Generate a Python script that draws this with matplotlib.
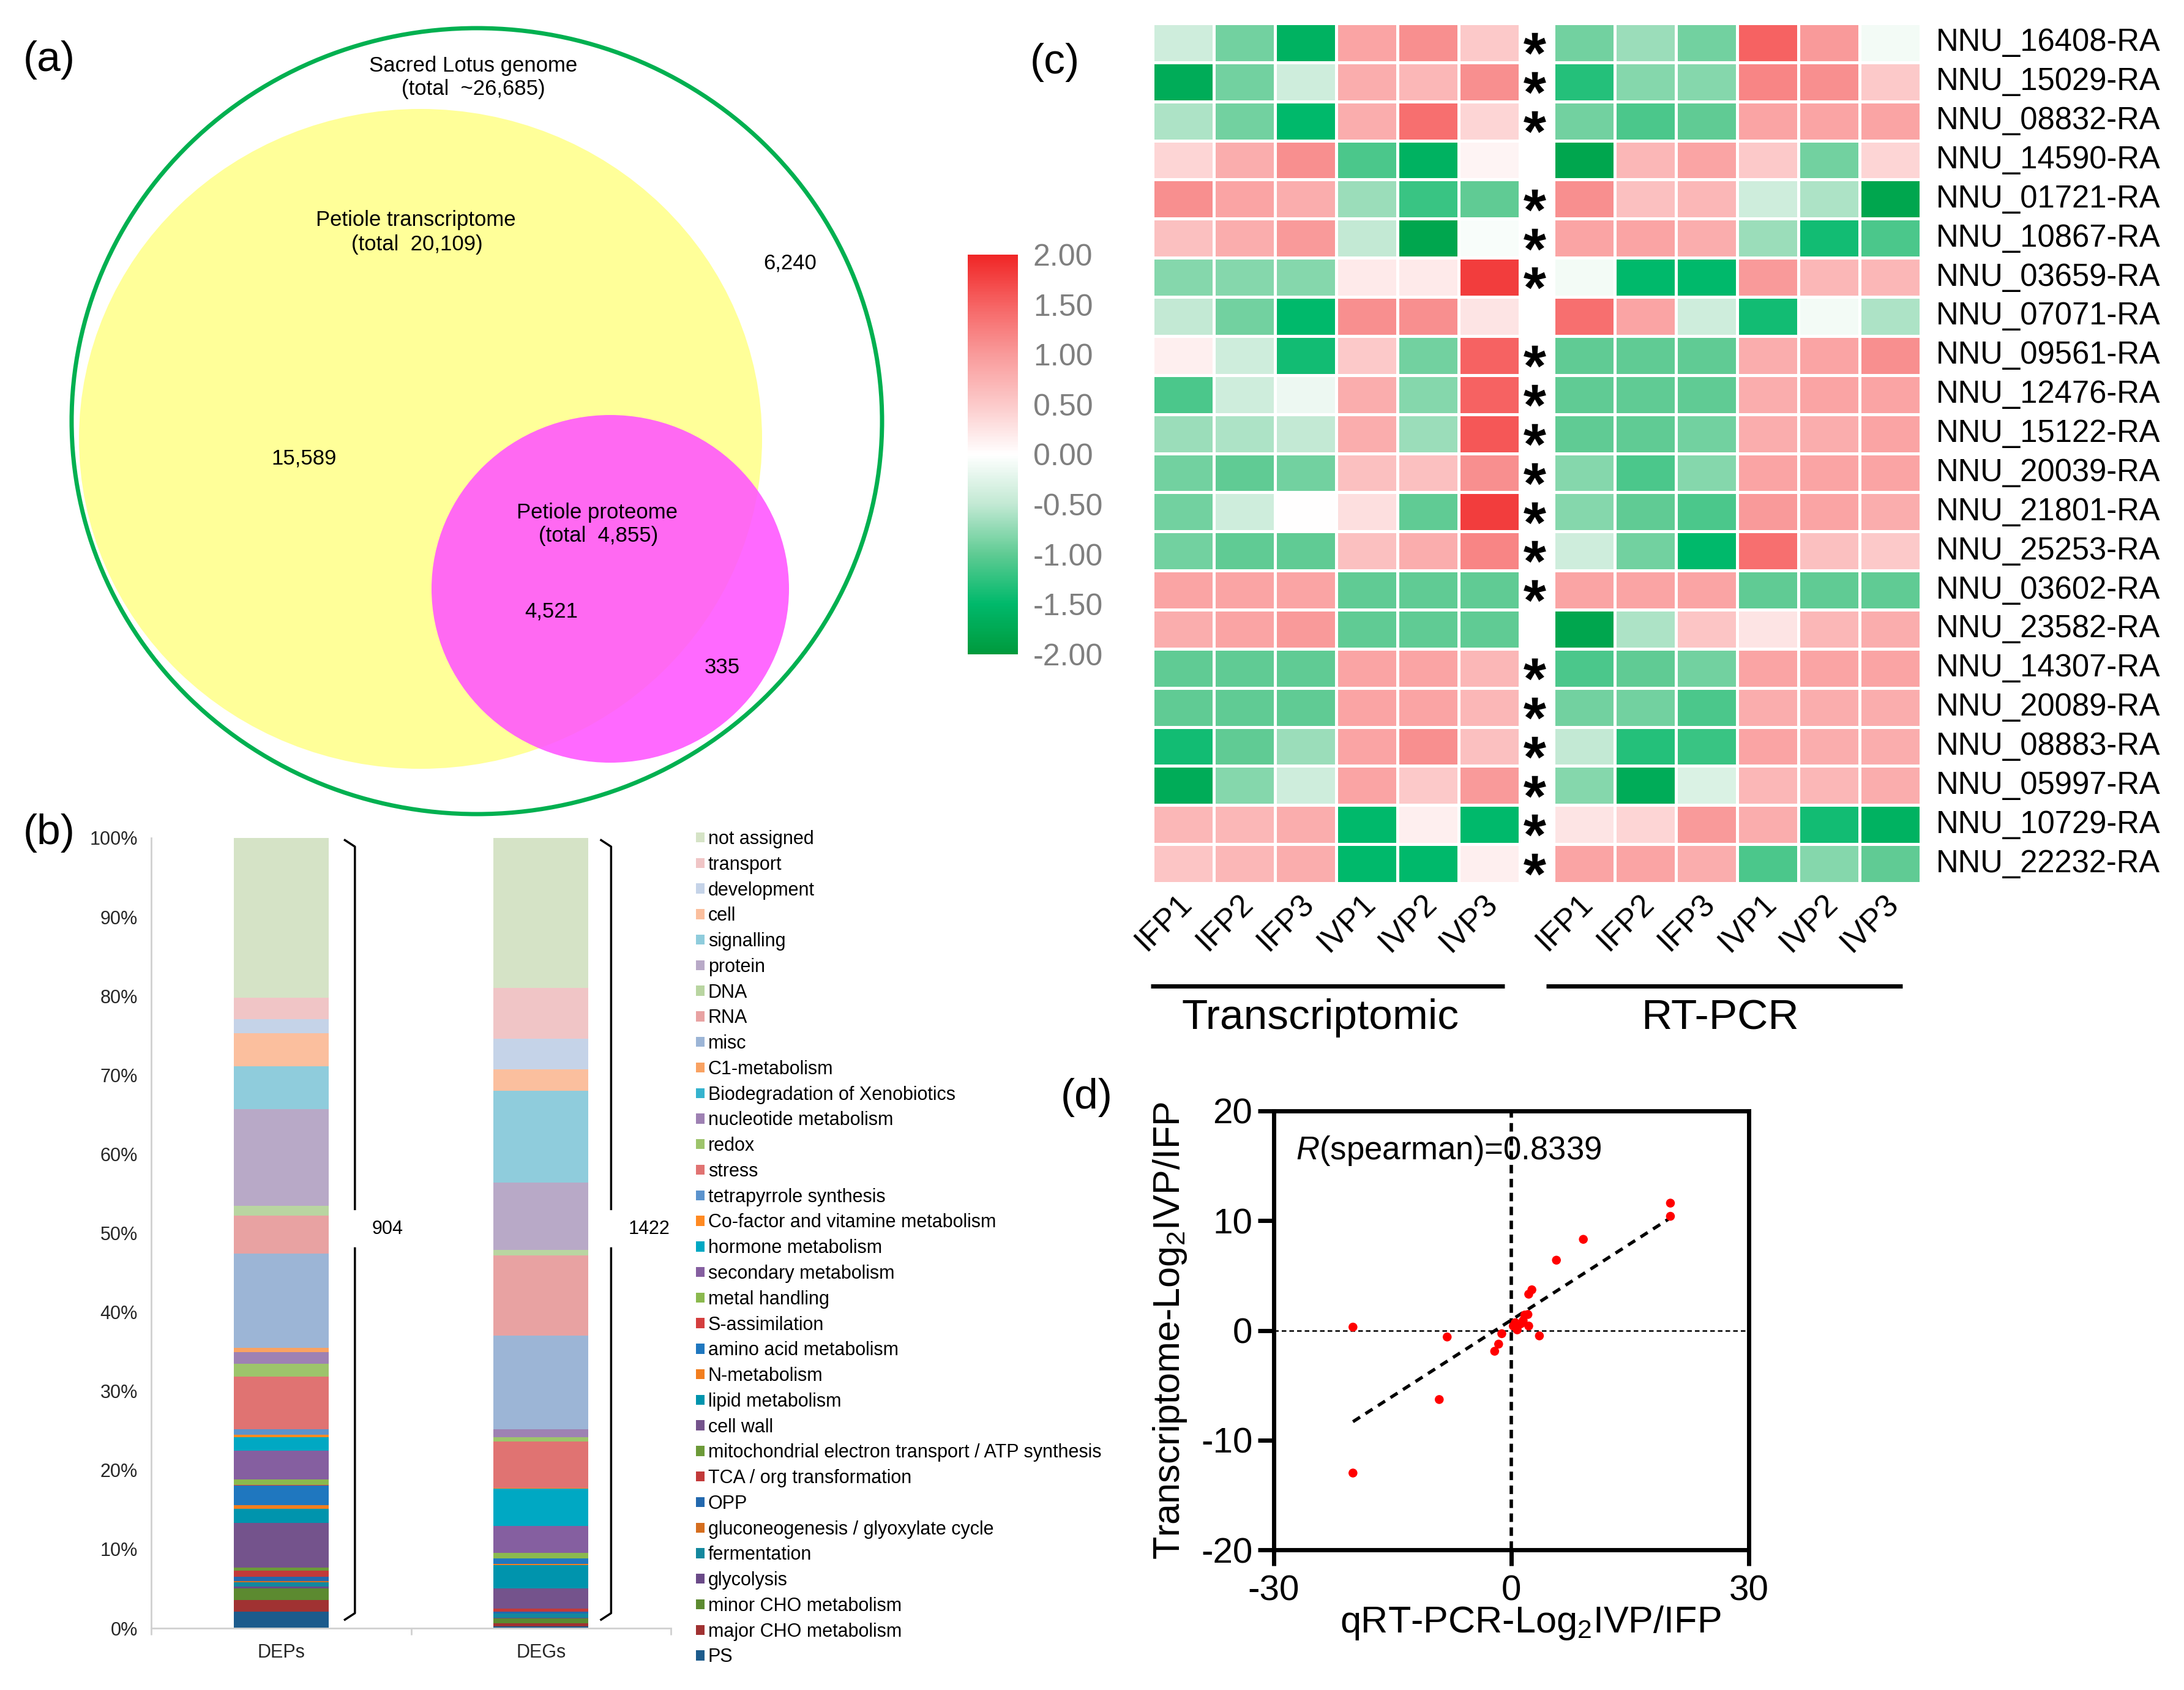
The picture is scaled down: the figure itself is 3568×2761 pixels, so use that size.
import numpy as np
import matplotlib
matplotlib.use('Agg')
import matplotlib.pyplot as plt
from matplotlib.patches import Ellipse
from matplotlib.colors import LinearSegmentedColormap

plt.rcParams['font.family'] = ['Liberation Sans', 'DejaVu Sans']
plt.rcParams['mathtext.fontset'] = 'custom'
plt.rcParams['mathtext.rm'] = 'Liberation Sans'
plt.rcParams['mathtext.it'] = 'Liberation Sans:italic'
plt.rcParams['mathtext.bf'] = 'Liberation Sans:bold'
plt.rcParams['axes.unicode_minus'] = False

# ---------------- data ----------------
# (a) Venn counts
genome_total = "~26,685"
transcriptome_total = "20,109"
proteome_total = "4,855"
only_genome = "6,240"
only_transcriptome = "15,589"
both = "4,521"
only_proteome = "335"

# (b) functional categories (legend order, top -> bottom)
categories = ["not assigned", "transport", "development", "cell", "signalling", "protein",
              "DNA", "RNA", "misc", "C1-metabolism", "Biodegradation of Xenobiotics",
              "nucleotide metabolism", "redox", "stress", "tetrapyrrole synthesis",
              "Co-factor and vitamine metabolism", "hormone metabolism", "secondary metabolism",
              "metal handling", "S-assimilation", "amino acid metabolism", "N-metabolism",
              "lipid metabolism", "cell wall", "mitochondrial electron transport / ATP synthesis",
              "TCA / org transformation", "OPP", "gluconeogenesis / glyoxylate cycle",
              "fermentation", "glycolysis", "minor CHO metabolism", "major CHO metabolism", "PS"]
cat_colors = ["#D5E3C6", "#F0C5C6", "#C5D3E8", "#FBBF9E", "#8FCCDC", "#B8A9C7",
              "#B9D5A1", "#E8A2A2", "#9CB5D6", "#F9A262", "#35B3CE",
              "#9E81B3", "#9DC46B", "#E07372", "#5B93CD",
              "#FF8A22", "#00A8C3", "#855FA0",
              "#8BB94E", "#D43E3E", "#1F77BF", "#F27E1E",
              "#0094AD", "#74538C", "#6C9A38",
              "#C23A3A", "#2368AE", "#D56E1F",
              "#13889E", "#6A4A88", "#5C8A30", "#A03232", "#1C5B8C"]
deps_pct = [20.2, 2.7, 1.8, 4.2, 5.4, 12.2, 1.3, 4.8, 11.9, 0.5, 0.0, 1.5, 1.6, 6.7, 0.7,
            0.3, 1.7, 3.6, 0.7, 0.1, 2.5, 0.45, 1.8, 5.6, 0.4, 0.8, 0.5, 0.2, 0.55, 0.25,
            1.4, 1.5, 2.1]
degs_pct = [19.0, 6.4, 3.9, 2.7, 11.6, 8.5, 0.7, 10.2, 11.8, 0.0, 0.0, 1.0, 0.6, 5.85, 0.05,
            0.05, 4.7, 3.4, 0.7, 0.0, 0.75, 0.15, 2.9, 2.6, 0.0, 0.35, 0.25, 0.0, 0.5, 0.1,
            0.6, 0.45, 0.2]
groups_b = ["DEPs", "DEGs"]
group_totals = ["904", "1422"]

# (c) heatmap
genes = ["NNU_16408-RA", "NNU_15029-RA", "NNU_08832-RA", "NNU_14590-RA", "NNU_01721-RA",
         "NNU_10867-RA", "NNU_03659-RA", "NNU_07071-RA", "NNU_09561-RA", "NNU_12476-RA",
         "NNU_15122-RA", "NNU_20039-RA", "NNU_21801-RA", "NNU_25253-RA", "NNU_03602-RA",
         "NNU_23582-RA", "NNU_14307-RA", "NNU_20089-RA", "NNU_08883-RA", "NNU_05997-RA",
         "NNU_10729-RA", "NNU_22232-RA"]
samples = ["IFP1", "IFP2", "IFP3", "IVP1", "IVP2", "IVP3"]
significant = [1, 1, 1, 0, 1, 1, 1, 0, 1, 1, 1, 1, 1, 1, 1, 0, 1, 1, 1, 1, 1, 1]
transcriptomic = [
    [-0.4, -0.9, -1.6, 0.9, 1.1, 0.5],
    [-1.7, -0.9, -0.4, 0.8, 0.7, 1.1],
    [-0.6, -0.9, -1.5, 0.8, 1.4, 0.4],
    [0.4, 0.8, 1.1, -1.1, -1.6, 0.1],
    [1.1, 0.9, 0.8, -0.7, -1.2, -1.0],
    [0.6, 0.8, 1.0, -0.5, -1.8, -0.05],
    [-0.8, -0.8, -0.8, 0.2, 0.2, 1.8],
    [-0.5, -0.9, -1.5, 1.1, 1.1, 0.25],
    [0.15, -0.4, -1.4, 0.5, -0.9, 1.5],
    [-1.1, -0.4, -0.15, 0.8, -0.8, 1.5],
    [-0.7, -0.6, -0.5, 0.8, -0.7, 1.6],
    [-0.9, -1.0, -0.9, 0.6, 0.6, 1.1],
    [-0.9, -0.4, 0.0, 0.3, -1.0, 1.8],
    [-0.9, -1.0, -1.0, 0.6, 0.8, 1.2],
    [0.9, 0.9, 0.9, -1.0, -1.0, -1.0],
    [0.8, 0.9, 1.0, -1.0, -1.0, -1.0],
    [-1.0, -1.0, -1.0, 0.9, 0.9, 0.7],
    [-1.0, -1.0, -1.0, 0.9, 0.9, 0.7],
    [-1.4, -1.0, -0.7, 0.9, 1.1, 0.6],
    [-1.7, -0.8, -0.4, 0.9, 0.5, 1.0],
    [0.7, 0.7, 0.8, -1.5, 0.15, -1.5],
    [0.55, 0.7, 0.8, -1.5, -1.5, 0.15],
]
rt_pcr = [
    [-0.9, -0.7, -0.9, 1.5, 1.0, -0.1],
    [-1.3, -0.8, -0.8, 1.2, 1.1, 0.5],
    [-0.9, -1.1, -1.0, 0.9, 0.9, 0.9],
    [-1.8, 0.7, 0.9, 0.5, -0.9, 0.4],
    [1.1, 0.6, 0.7, -0.4, -0.6, -1.8],
    [0.9, 0.9, 0.8, -0.7, -1.4, -1.1],
    [-0.1, -1.5, -1.5, 1.0, 0.7, 0.7],
    [1.4, 0.9, -0.4, -1.4, -0.1, -0.6],
    [-1.0, -1.0, -1.0, 0.8, 0.9, 1.1],
    [-1.0, -1.0, -1.0, 0.8, 0.9, 0.9],
    [-1.0, -1.0, -0.9, 0.8, 0.8, 0.9],
    [-0.8, -1.1, -0.8, 0.9, 0.9, 0.9],
    [-0.8, -1.0, -1.1, 1.0, 0.9, 0.8],
    [-0.4, -0.9, -1.5, 1.4, 0.6, 0.5],
    [0.9, 0.9, 0.9, -1.0, -1.0, -1.0],
    [-1.8, -0.6, 0.55, 0.25, 0.7, 0.8],
    [-1.1, -1.0, -0.9, 0.9, 0.9, 0.9],
    [-0.9, -0.9, -1.1, 0.8, 0.8, 0.8],
    [-0.5, -1.3, -1.2, 0.9, 0.8, 0.8],
    [-0.8, -1.7, -0.3, 0.7, 0.7, 0.8],
    [0.25, 0.4, 1.0, 0.8, -1.4, -1.6],
    [0.9, 0.9, 0.8, -1.1, -0.8, -1.0],
]
cbar_ticks = [-2.0, -1.5, -1.0, -0.5, 0.0, 0.5, 1.0, 1.5, 2.0]

# (d) scatter
qrtpcr_log2 = [20.1, 20.1, 9.1, 5.7, 2.6, 2.2, -20.0, -20.0, -8.1, -9.1, -1.2,
               -1.6, -2.1, 3.55, 0.5, 0.25, 0.75, 1.7, 2.1, 1.5, 2.2, 1.2]
transcriptome_log2 = [11.6, 10.4, 8.3, 6.4, 3.7, 3.3, 0.3, -13.0, -0.6, -6.3, -0.3,
                      -1.25, -1.9, -0.5, 0.7, 0.4, 0.05, 1.4, 1.45, 0.9, 0.4, 0.6]
spearman_r = "0.8339"

# ---------------- figure ----------------
W, H = 3568, 2761
fig = plt.figure(figsize=(W / 100, H / 100), dpi=100)


def rect(x0, y0, x1, y1):
    return [x0 / W, 1 - y1 / H, (x1 - x0) / W, (y1 - y0) / H]


# canvas axes in pixel coordinates (for Venn + annotations)
ax0 = fig.add_axes([0, 0, 1, 1])
ax0.set_xlim(0, W)
ax0.set_ylim(H, 0)
ax0.axis('off')

# ---- (a) Venn ----
ax0.add_patch(Ellipse((687, 717), 1116, 1078, facecolor='#FFFF99', edgecolor='none', zorder=1))
ax0.add_patch(Ellipse((997, 962), 584, 568, facecolor=(1.0, 0.33, 1.0), alpha=0.88,
                      edgecolor='none', zorder=2))
ax0.add_patch(Ellipse((779, 688), 1324, 1284, facecolor='none', edgecolor='#00B050',
                      linewidth=5, zorder=3))
vfs = 25
ax0.text(773, 107, "Sacred Lotus genome", ha='center', va='center', fontsize=vfs, zorder=4)
ax0.text(773, 146, "(total  %s)" % genome_total, ha='center', va='center', fontsize=vfs, zorder=4)
ax0.text(679, 359, "Petiole transcriptome", ha='center', va='center', fontsize=vfs, zorder=4)
ax0.text(681, 400, "(total  %s)" % transcriptome_total, ha='center', va='center', fontsize=vfs, zorder=4)
ax0.text(1291, 430, only_genome, ha='center', va='center', fontsize=vfs, zorder=4)
ax0.text(497, 749, only_transcriptome, ha='center', va='center', fontsize=vfs, zorder=4)
ax0.text(976, 837, "Petiole proteome", ha='center', va='center', fontsize=vfs, zorder=4)
ax0.text(978, 876, "(total  %s)" % proteome_total, ha='center', va='center', fontsize=vfs, zorder=4)
ax0.text(901, 999, both, ha='center', va='center', fontsize=vfs, zorder=4)
ax0.text(1180, 1091, only_proteome, ha='center', va='center', fontsize=vfs, zorder=4)

# panel labels
for lab, (px, py) in zip(["(a)", "(b)", "(c)", "(d)"],
                         [(80, 98), (80, 1361), (1723, 102), (1775, 1793)]):
    ax0.text(px, py, lab, ha='center', va='center', fontsize=50)

# ---- (b) stacked bars ----
axb = fig.add_axes(rect(247, 1369, 1096, 2660))
dep = np.array(deps_pct, float)
deg = np.array(degs_pct, float)
dep = dep / dep.sum() * 100
deg = deg / deg.sum() * 100
xb = np.arange(len(groups_b))
bottom = np.zeros(2)
handles = []
for i in range(len(categories) - 1, -1, -1):
    vals = np.array([dep[i], deg[i]])
    h = axb.bar(xb, vals, bottom=bottom, width=0.365, color=cat_colors[i], linewidth=0,
                label=categories[i])
    handles.append(h)
    bottom += vals
axb.set_xlim(-0.5, 1.5)
axb.set_ylim(0, 100)
axb.set_yticks(np.arange(0, 101, 10))
axb.set_yticklabels(["%d%%" % v for v in range(0, 101, 10)])
axb.set_xticks(xb)
axb.set_xticklabels(groups_b)
axb.set_xticks([-0.5, 0.5, 1.5], minor=True)
axb.tick_params(axis='both', which='major', length=0, labelsize=22, colors='#262626')
axb.tick_params(axis='y', pad=16)
axb.tick_params(axis='x', pad=18)
axb.tick_params(axis='x', which='minor', length=8, width=2, color='#D0D0D0')
for s in ['top', 'right']:
    axb.spines[s].set_visible(False)
for s in ['left', 'bottom']:
    axb.spines[s].set_color('#D0D0D0')
    axb.spines[s].set_linewidth(2)

# brackets with totals
for xc, tot in zip([0.284, 1.27], group_totals):
    axb.plot([xc - 0.042, xc, xc], [99.8, 98.9, 52.9], color='black', lw=2.5,
             clip_on=False, solid_capstyle='butt')
    axb.plot([xc, xc, xc - 0.042], [48.2, 1.9, 1.0], color='black', lw=2.5,
             clip_on=False, solid_capstyle='butt')
    axb.text(xc + 0.066, 50.5, tot, ha='left', va='center', fontsize=22)

axb.legend(handles=handles[::-1], labels=categories, loc='upper left',
           bbox_to_anchor=(1137 / W, 1 - 1356 / H), bbox_transform=fig.transFigure,
           frameon=False, borderpad=0, borderaxespad=0, handlelength=0.45,
           handleheight=0.45, handletextpad=0.2, labelspacing=0.385, fontsize=22)

# ---- (c) heatmap ----
cmap = LinearSegmentedColormap.from_list(
    'gwr', [(0.0, '#009A3D'), (0.125, '#00B96B'), (0.25, '#5FCB93'), (0.375, '#C2E9D3'),
            (0.5, '#FFFFFF'), (0.625, '#FCCACA'), (0.75, '#F99B9B'), (0.875, '#F66464'),
            (1.0, '#F02626')])
axh = fig.add_axes(rect(1883, 38, 3138, 1443))
T = np.array(transcriptomic)
R = np.array(rt_pcr)
ny = len(genes)
right0 = 6.55
m = axh.pcolormesh(np.arange(7), np.arange(ny + 1), T, cmap=cmap, vmin=-2, vmax=2,
                   edgecolors='white', linewidth=2.5)
axh.pcolormesh(right0 + np.arange(7), np.arange(ny + 1), R, cmap=cmap, vmin=-2, vmax=2,
               edgecolors='white', linewidth=2.5)
axh.set_xlim(0, right0 + 6)
axh.set_ylim(ny, 0)
axh.axis('off')
for i, g in enumerate(genes):
    axh.text(right0 + 6 + 0.25, i + 0.5, g, ha='left', va='center', fontsize=36.5)
sig_rows = np.array([i + 0.5 for i in range(ny) if significant[i]])
axh.scatter(np.full(len(sig_rows), 6.24), sig_rows + 0.02, marker=r'$\mathbf{*}$', s=700,
            color='black', linewidths=0, clip_on=False)
for j, s in enumerate(samples):
    for x0 in (0, right0):
        axh.text(x0 + j + 0.56, ny + 0.41, s, ha='right', va='center', rotation=45,
                 rotation_mode='anchor', fontsize=37, clip_on=False)

# group bars and labels
ax0.plot([1880, 2458], [1611, 1611], color='black', lw=5, solid_capstyle='butt')
ax0.plot([2526, 3108], [1611, 1611], color='black', lw=5, solid_capstyle='butt')
ax0.text(2157, 1663, "Transcriptomic", ha='center', va='center', fontsize=50)
ax0.text(2810, 1663, "RT-PCR", ha='center', va='center', fontsize=50)

# colorbar
cax = fig.add_axes(rect(1581, 416, 1663, 1069))
cb = fig.colorbar(m, cax=cax, ticks=cbar_ticks)
cb.outline.set_visible(False)
cb.ax.set_yticklabels(["%.2f" % t for t in cbar_ticks])
cb.ax.tick_params(length=0, pad=18, labelsize=36, labelcolor='#7F7F7F')

# ---- (d) scatter ----
axd = fig.add_axes(rect(2081, 1815, 2857, 2532))
xd = np.array(qrtpcr_log2)
yd = np.array(transcriptome_log2)
axd.axhline(0, color='black', lw=1.8, ls=(0, (3, 2)), zorder=1)
axd.axvline(0, color='black', lw=4, ls=(0, (2.5, 1.6)), zorder=1)
k, b0 = np.polyfit(xd, yd, 1)
xf = np.array([xd.min(), xd.max()])
axd.plot(xf, k * xf + b0, color='black', lw=3.8, ls=(0, (2.6, 2.0)), zorder=2)
axd.scatter(xd, yd, s=110, color='#FF0000', edgecolors='none', zorder=3)
axd.set_xlim(-30, 30)
axd.set_ylim(-20, 20)
axd.set_xticks([-30, 0, 30])
axd.set_yticks([-20, -10, 0, 10, 20])
for s in axd.spines.values():
    s.set_linewidth(5)
axd.tick_params(direction='out', length=19, width=5, labelsize=42, pad=6)
axd.tick_params(axis='x', pad=10)
axd.text(-27.2, 16.4, r"$\mathit{R}$(spearman)=" + spearman_r, ha='left', va='center',
         fontsize=38)
axd.set_xlabel(r"qRT-PCR-Log$_2$IVP/IFP", fontsize=44, va='center')
axd.xaxis.set_label_coords(0.54, -0.166)
axd.set_ylabel(r"Transcriptome-Log$_2$IVP/IFP", fontsize=44, va='center')
axd.yaxis.set_label_coords(-0.219, 0.5)

fig.savefig('out.png', dpi=100)
